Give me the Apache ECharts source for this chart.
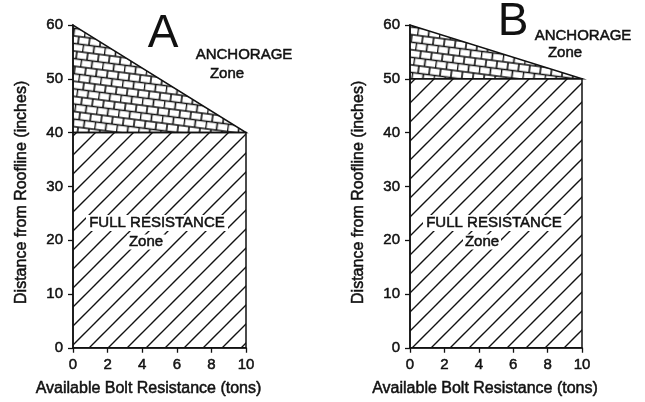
<!DOCTYPE html>
<html><head><meta charset="utf-8">
<script src="https://cdn.jsdelivr.net/npm/echarts@6/dist/echarts.min.js"></script>
<style>html,body{margin:0;padding:0;background:#fff;overflow:hidden}#c{width:645px;height:402px}</style>
</head><body><div id="c"></div>
<script>
// ---- data ----
const panelNames = ['A', 'B'];
const boltMin = [0, 0];          // tons
const boltMax = [10, 10];        // tons
const fullTop = [40, 50];        // top of FULL RESISTANCE zone (inches)
const anchorTop = [60, 60];      // peak of ANCHORAGE zone at 0 tons (inches)
const xTickValues = [0, 2, 4, 6, 8, 10];
const yTickValues = [0, 10, 20, 30, 40, 50, 60];
const xAxisName = 'Available Bolt Resistance (tons)';
const yAxisName = 'Distance from Roofline (inches)';
const zoneTop = ['ANCHORAGE', 'Zone'];
const zoneFull = ['FULL RESISTANCE', 'Zone'];

// ---- patterns ----
function hatchCanvas() {
  const s = 19, c = document.createElement('canvas');
  c.width = s; c.height = s;
  const g = c.getContext('2d');
  g.strokeStyle = '#111'; g.lineWidth = 1.4;
  g.beginPath();
  g.moveTo(-2, s + 2); g.lineTo(s + 2, -2);
  g.moveTo(-2, 2); g.lineTo(2, -2);
  g.moveTo(s - 2, s + 2); g.lineTo(s + 2, s - 2);
  g.stroke();
  return c;
}
function brickCanvas() {
  const w = 22, h = 15, c = document.createElement('canvas');
  c.width = w; c.height = h;
  const g = c.getContext('2d');
  g.strokeStyle = '#111'; g.lineWidth = 1.6;
  g.beginPath();
  g.moveTo(0, 3.5); g.lineTo(w, 3.5);
  g.moveTo(0, 11); g.lineTo(w, 11);
  g.moveTo(0.5, 3.5); g.lineTo(0.5, 11);
  g.moveTo(11.5, 3.5); g.lineTo(11.5, 11);
  g.moveTo(6, 11); g.lineTo(6, h);
  g.moveTo(6, 0); g.lineTo(6, 3.5);
  g.moveTo(17, 11); g.lineTo(17, h);
  g.moveTo(17, 0); g.lineTo(17, 3.5);
  g.stroke();
  return c;
}
const hatchFill = { image: hatchCanvas(), repeat: 'repeat' };
const brickFill = { image: brickCanvas(), repeat: 'repeat', rotation: 0.13 };

const FONT = '"Liberation Sans", Arial, Helvetica, sans-serif';
const INK = '#111';
const THICK = { textBorderColor: INK, textBorderWidth: 0.5 };

const grids = [
  { left: 73, top: 25, width: 173, height: 327 },
  { left: 410, top: 25, width: 172, height: 327 }
];

function xAxis(i) {
  return {
    gridIndex: i, type: 'value', min: boltMin[i], max: boltMax[i], interval: xTickValues[1] - xTickValues[0],
    name: xAxisName, nameLocation: 'middle', nameGap: 33,
    nameTextStyle: Object.assign({ fontFamily: FONT, fontSize: 16, color: INK, padding: [0, 22, 0, 0] }, THICK),
    axisLine: { show: true, onZero: false, lineStyle: { color: INK, width: 1.5 } },
    axisTick: { show: true, inside: false, length: 5, lineStyle: { color: INK, width: 1.3 } },
    axisLabel: Object.assign({ margin: 10, fontFamily: FONT, fontSize: 15, color: INK }, THICK),
    splitLine: { show: false }
  };
}
function yAxis(i) {
  return {
    gridIndex: i, type: 'value', min: 0, max: yTickValues[yTickValues.length - 1], interval: yTickValues[1] - yTickValues[0],
    name: yAxisName, nameLocation: 'middle', nameGap: 43, nameRotate: 90,
    nameTextStyle: Object.assign({ fontFamily: FONT, fontSize: 16, color: INK, padding: [0, 12, 0, 0] }, THICK),
    axisLine: { show: true, onZero: false, lineStyle: { color: INK, width: 1.5 } },
    axisTick: { show: true, inside: false, length: 5, lineStyle: { color: INK, width: 1.3 } },
    axisLabel: Object.assign({ margin: 10, fontFamily: FONT, fontSize: 15, color: INK }, THICK),
    splitLine: { show: false }
  };
}

function renderZones(params, api) {
  const x0 = api.value(0), x1 = api.value(1), f = api.value(2), a = api.value(3);
  const b0 = api.coord([x0, 0]), b1 = api.coord([x1, 0]);
  const f1 = api.coord([x1, f]), f0 = api.coord([x0, f]);
  const a0 = api.coord([x0, a]);
  return {
    type: 'group',
    children: [
      { type: 'polygon', shape: { points: [b0, b1, f1, f0] },
        style: { fill: hatchFill, stroke: INK, lineWidth: 1.5 } },
      { type: 'polygon', shape: { points: [f0, f1, a0] },
        style: { fill: brickFill, stroke: INK, lineWidth: 1.5 } }
    ]
  };
}

const series = panelNames.map((n, i) => ({
  type: 'custom', xAxisIndex: i, yAxisIndex: i, silent: true,
  renderItem: renderZones,
  data: [[boltMin[i], boltMax[i], fullTop[i], anchorTop[i]]]
}));

function txt(s, x, y, size, thick) {
  return {
    type: 'text', x: x, y: y, silent: true, z: 100,
    style: Object.assign({ text: s, font: size + 'px ' + FONT, fill: INK, align: 'center', verticalAlign: 'middle' },
      thick === false ? {} : { stroke: INK, lineWidth: 0.5 })
  };
}
function whiteBox(cx, cy, w, h) {
  return { type: 'rect', silent: true, z: 90, shape: { x: cx - w / 2, y: cy - h / 2, width: w, height: h }, style: { fill: '#fff' } };
}

const graphic = [
  txt(panelNames[0], 163, 34, 46, false),
  txt(panelNames[1], 513, 22, 46, false),
  txt(zoneTop[0], 244, 55, 15), txt(zoneTop[1], 227, 74, 15),
  txt(zoneTop[0], 583, 36, 15), txt(zoneTop[1], 565, 53, 15),
  whiteBox(157, 223, 142, 16), whiteBox(146, 242, 38, 15),
  whiteBox(494, 223, 142, 16), whiteBox(482, 242, 38, 15),
  txt(zoneFull[0], 157, 223, 15), txt(zoneFull[1], 146, 242, 15),
  txt(zoneFull[0], 494, 223, 15), txt(zoneFull[1], 482, 242, 15)
];

const chart = echarts.init(document.getElementById('c'), null, { renderer: 'canvas' });
chart.setOption({
  backgroundColor: '#fff',
  animation: false,
  grid: grids,
  xAxis: [xAxis(0), xAxis(1)],
  yAxis: [yAxis(0), yAxis(1)],
  series: series,
  graphic: graphic
});
</script></body></html>
